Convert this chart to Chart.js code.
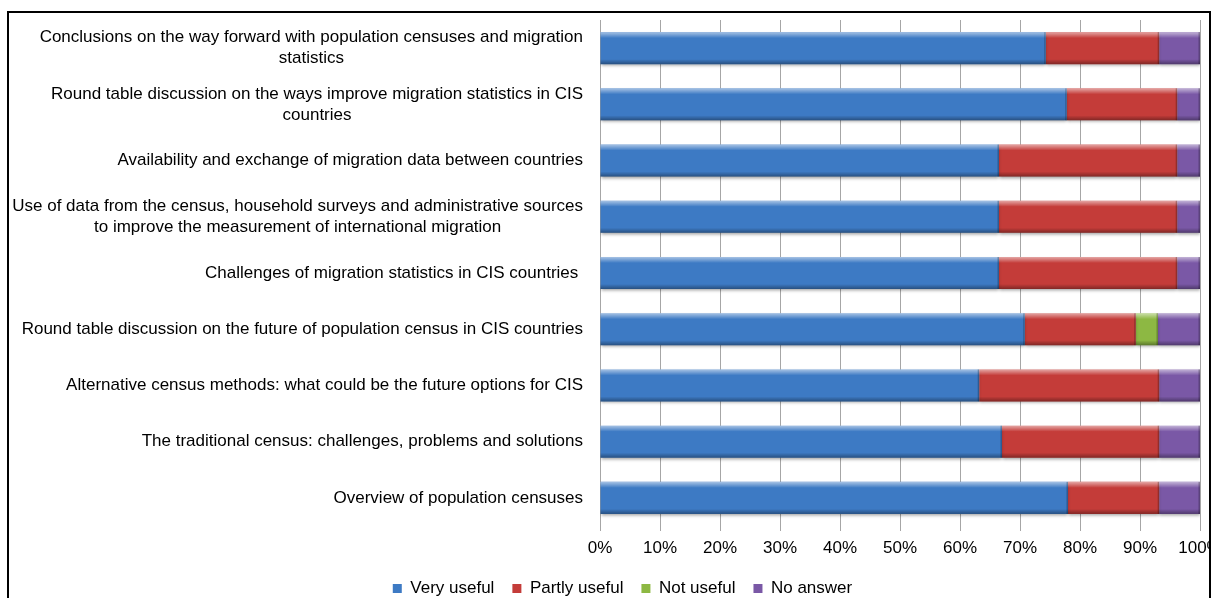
<!DOCTYPE html>
<html>
<head>
<meta charset="utf-8">
<script src="https://cdn.jsdelivr.net/npm/chart.js@4.4.1/dist/chart.umd.min.js"></script>
<style>
  html, body { margin: 0; padding: 0; background: #fff; overflow: hidden; }
  #frame {
    position: absolute; left: 7px; top: 11px;
    width: 1204px; height: 640px;
    border: 2px solid #000; box-sizing: border-box;
  }
  #chart { position: absolute; left: 0; top: 0; }
</style>
</head>
<body>
<div id="frame"><canvas id="chart" width="1200" height="594"></canvas></div>
<script>
const sessions = [
  ["Conclusions on the way forward with population censuses and migration", "statistics"],
  ["Round table discussion on the ways improve migration statistics in CIS", "countries"],
  "Availability and exchange of migration data between countries",
  ["Use of data from the census, household surveys and administrative sources", "to improve the measurement of international migration"],
  "Challenges of migration statistics in CIS countries ",
  "Round table discussion on the future of population census in CIS countries",
  "Alternative census methods: what could be the future options for CIS",
  "The traditional census: challenges, problems and solutions",
  "Overview of population censuses"
];

// shares of answers, percent
const veryUseful   = [74.3, 77.8, 66.5, 66.5, 66.5, 70.8, 63.2, 67.0, 78.0];
const partlyUseful = [18.9, 18.4, 29.7, 29.7, 29.7, 18.5, 30.0, 26.2, 15.2];
const notUseful    = [0, 0, 0, 0, 0, 3.7, 0, 0, 0];
const noAnswer     = [6.8, 3.8, 3.8, 3.8, 3.8, 7.0, 6.8, 6.8, 6.8];

const xTicks = [0, 10, 20, 30, 40, 50, 60, 70, 80, 90, 100];

const FONT = "'Liberation Sans', Arial, sans-serif";
Chart.defaults.font.family = FONT;
Chart.defaults.font.size = 17;
Chart.defaults.color = "#000";

// Excel-like bevel on each bar segment
const bevel = {
  id: "bevel",
  beforeDatasetsDraw(chart) {
    const ctx = chart.ctx;
    ctx.save();
    ctx.shadowColor = "rgba(0,0,0,0.35)";
    ctx.shadowBlur = 3;
    ctx.shadowOffsetY = 2;
  },
  afterDatasetsDraw(chart) {
    const ctx = chart.ctx;
    ctx.restore();
    chart.data.datasets.forEach((ds, i) => {
      const meta = chart.getDatasetMeta(i);
      meta.data.forEach(bar => {
        const p = bar.getProps(["x", "y", "base", "height"], true);
        const l = Math.min(p.x, p.base), r = Math.max(p.x, p.base);
        if (r - l < 0.5) return;
        const t = p.y - p.height / 2, b = p.y + p.height / 2;
        let g = ctx.createLinearGradient(0, t, 0, t + 6);
        g.addColorStop(0, "rgba(255,255,255,0.55)");
        g.addColorStop(1, "rgba(255,255,255,0)");
        ctx.fillStyle = g;
        ctx.fillRect(l, t, r - l, 6);
        g = ctx.createLinearGradient(0, b - 5, 0, b);
        g.addColorStop(0, "rgba(0,0,0,0)");
        g.addColorStop(1, "rgba(0,0,0,0.35)");
        ctx.fillStyle = g;
        ctx.fillRect(l, b - 5, r - l, 5);
        ctx.fillStyle = "rgba(0,0,0,0.25)";
        ctx.fillRect(r - 1.5, t, 1.5, b - t);
      });
    });
  }
};

// category labels: block right-aligned, lines centered in the block
const yLabels = {
  id: "yLabels",
  afterDraw(chart) {
    const ctx = chart.ctx;
    const yScale = chart.scales.y;
    const right = chart.chartArea.left - 17;
    ctx.save();
    ctx.font = "17px " + FONT;
    ctx.fillStyle = "#000";
    ctx.textAlign = "center";
    ctx.textBaseline = "middle";
    sessions.forEach((lab, i) => {
      const lines = Array.isArray(lab) ? lab : [lab];
      const w = Math.max(...lines.map(s => ctx.measureText(s).width));
      const cx = right - w / 2;
      const y = yScale.getPixelForTick(i);
      lines.forEach((s, j) => {
        ctx.fillText(s, cx, y + (j - (lines.length - 1) / 2) * 21);
      });
    });
    ctx.restore();
  }
};

new Chart(document.getElementById("chart"), {
  type: "bar",
  data: {
    labels: sessions,
    datasets: [
      { label: "Very useful", data: veryUseful, backgroundColor: "#3D7AC4" },
      { label: "Partly useful", data: partlyUseful, backgroundColor: "#C43C39" },
      { label: "Not useful", data: notUseful, backgroundColor: "#8DB843" },
      { label: "No answer", data: noAnswer, backgroundColor: "#7A58A6" }
    ]
  },
  options: {
    indexAxis: "y",
    responsive: false,
    animation: false,
    devicePixelRatio: 1,
    layout: { padding: { left: 36, right: 9, top: 7, bottom: 0 } },
    datasets: { bar: { categoryPercentage: 0.57, barPercentage: 1, borderWidth: 0 } },
    plugins: {
      legend: {
        position: "bottom",
        labels: { boxWidth: 9, boxHeight: 9, padding: 18, color: "#000", font: { size: 17 } }
      },
      tooltip: { enabled: false }
    },
    scales: {
      x: {
        stacked: true,
        min: 0, max: 100,
        afterBuildTicks: s => { s.ticks = xTicks.map(v => ({ value: v })); },
        afterFit: s => { s.height = 36; s.paddingLeft = 0; s.paddingRight = 0; },
        grid: { color: "#A6A6A6", tickLength: 5 },
        border: { display: false },
        ticks: { padding: 7, callback: v => v + "%", maxRotation: 0, autoSkip: false }
      },
      y: {
        stacked: true,
        afterFit: s => { s.width = 555; },
        grid: { display: false },
        border: { display: false },
        ticks: { display: false }
      }
    }
  },
  plugins: [bevel, yLabels]
});
</script>
</body>
</html>
